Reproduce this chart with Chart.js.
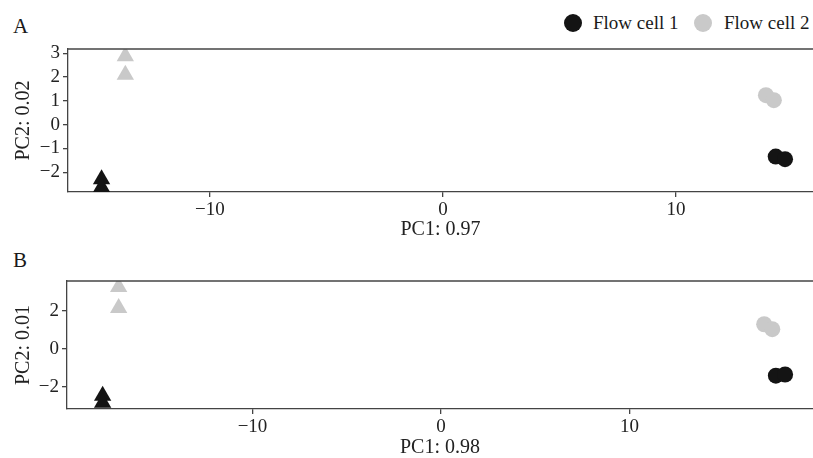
<!DOCTYPE html>
<html>
<head>
<meta charset="utf-8">
<script src="https://cdn.jsdelivr.net/npm/chart.js@4"></script>
<style>
  html, body { margin:0; padding:0; background:#fff; }
  body { width:813px; height:458px; position:relative; overflow:hidden; font-family:"Liberation Serif", serif; color:#1a1a1a; }
  .wrap { position:absolute; left:0; width:813px; }
  .panel-label { position:absolute; font-size:21px; line-height:1; }
  .legend { position:absolute; top:12px; left:0; width:813px; height:22px; font-size:19px; }
  .dot { position:absolute; width:18px; height:18px; border-radius:50%; top:2px; }
  .ltxt { position:absolute; top:0; line-height:22px; }
</style>
</head>
<body>
<div class="panel-label" style="left:13px;top:16px;">A</div>
<div class="panel-label" style="left:13px;top:250px;">B</div>
<div class="legend">
  <div class="dot" style="left:564px;background:#141414;"></div>
  <div class="ltxt" style="left:593px;">Flow cell 1</div>
  <div class="dot" style="left:694px;background:#c9c9c9;"></div>
  <div class="ltxt" style="left:724px;">Flow cell 2</div>
</div>
<div class="wrap" style="top:0;height:240px;"><canvas id="cA" width="813" height="240"></canvas></div>
<div class="wrap" style="top:240px;height:218px;"><canvas id="cB" width="813" height="218"></canvas></div>
<script>
// ---- Data ----
const seriesNames = ['Flow cell 1', 'Flow cell 2'];

// Panel A
const A_fc1_tri_x = [-14.65, -14.65];
const A_fc1_tri_y = [-2.29, -2.63];
const A_fc1_cir_x = [14.28, 14.68];
const A_fc1_cir_y = [-1.34, -1.45];
const A_fc2_tri_x = [-13.63, -13.63];
const A_fc2_tri_y = [2.88, 2.10];
const A_fc2_cir_x = [13.86, 14.20];
const A_fc2_cir_y = [1.24, 1.03];
const A_xTitle = 'PC1: 0.97';
const A_yTitle = 'PC2: 0.02';
const A_xRange = [-16.09, 15.88];
const A_yRange = [-2.83, 3.18];
const A_yStep = 1;

// Panel B
const B_fc1_tri_x = [-17.95, -17.95];
const B_fc1_tri_y = [-2.47, -2.84];
const B_fc1_cir_x = [17.76, 18.25];
const B_fc1_cir_y = [-1.41, -1.35];
const B_fc2_tri_x = [-17.10, -17.10];
const B_fc2_tri_y = [3.26, 2.16];
const B_fc2_cir_x = [17.14, 17.57];
const B_fc2_cir_y = [1.30, 1.04];
const B_xTitle = 'PC1: 0.98';
const B_yTitle = 'PC2: 0.01';
const B_xRange = [-19.84, 19.73];
const B_yRange = [-3.17, 3.58];
const B_yStep = 2;

const xStep = 10;

// ---- Styles ----
const BLACK = '#141414';
const GREY = '#c9c9c9';
const AXIS = '#444444';
const FONT = 'Liberation Serif';

function pts(xs, ys) { return xs.map((x, i) => ({x: x, y: ys[i]})); }
function fmt(v) { return String(v).replace('-', '\u2212'); }

const topBorder = {
  id: 'topBorder',
  afterDraw(chart) {
    const {ctx, chartArea} = chart;
    ctx.save();
    ctx.strokeStyle = AXIS;
    ctx.lineWidth = 1.3;
    ctx.beginPath();
    ctx.moveTo(chartArea.left, chartArea.top);
    ctx.lineTo(chartArea.right, chartArea.top);
    ctx.stroke();
    ctx.restore();
  }
};

function ds(label, data, color, shape, r) {
  return {
    label: label, data: data,
    pointStyle: shape, pointRadius: r, pointHoverRadius: r,
    backgroundColor: color, borderColor: color, borderWidth: 0,
    clip: 0
  };
}

function makeChart(id, d, opts) {
  return new Chart(document.getElementById(id), {
    type: 'scatter',
    data: { datasets: [
      ds(seriesNames[1], pts(d.fc2tx, d.fc2ty), GREY, 'triangle', 10),
      ds(seriesNames[1], pts(d.fc2cx, d.fc2cy), GREY, 'circle', 8),
      ds(seriesNames[0], pts(d.fc1tx, d.fc1ty), BLACK, 'triangle', 10),
      ds(seriesNames[0], pts(d.fc1cx, d.fc1cy), BLACK, 'circle', 8)
    ]},
    options: {
      responsive: false,
      animation: false,
      layout: { autoPadding: false, padding: { top: opts.top, left: 0, right: 0, bottom: 0 } },
      plugins: { legend: { display: false }, tooltip: { enabled: false } },
      scales: {
        x: {
          type: 'linear', min: opts.xRange[0], max: opts.xRange[1],
          border: { display: true, color: AXIS, width: 1.3 },
          grid: { display: true, drawOnChartArea: false, drawTicks: true, tickLength: 5, color: AXIS, lineWidth: 1.3 },
          ticks: { stepSize: xStep, includeBounds: false, autoSkip: false, maxRotation: 0, padding: 2,
                   color: '#222', font: { family: FONT, size: 19 }, callback: v => fmt(v) },
          title: { display: true, text: opts.xTitle, color: '#222', padding: 0,
                   font: { family: FONT, size: 20, lineHeight: 1 } },
          afterFit: s => { s.height = opts.xh; }
        },
        y: {
          type: 'linear', min: opts.yRange[0], max: opts.yRange[1],
          border: { display: true, color: AXIS, width: 1.3 },
          grid: { display: true, drawOnChartArea: false, drawTicks: true, tickLength: 5, color: AXIS, lineWidth: 1.3 },
          ticks: { stepSize: opts.yStep, includeBounds: false, autoSkip: false, padding: 3,
                   color: '#222', font: { family: FONT, size: 19 }, callback: v => fmt(v) },
          title: { display: true, text: opts.yTitle, color: '#222', padding: { top: 14, bottom: 0 },
                   font: { family: FONT, size: 20, lineHeight: 1 } },
          afterFit: s => { s.width = opts.yw; }
        }
      }
    },
    plugins: [topBorder]
  });
}

makeChart('cA', {
  fc1tx: A_fc1_tri_x, fc1ty: A_fc1_tri_y, fc1cx: A_fc1_cir_x, fc1cy: A_fc1_cir_y,
  fc2tx: A_fc2_tri_x, fc2ty: A_fc2_tri_y, fc2cx: A_fc2_cir_x, fc2cy: A_fc2_cir_y
}, { top: 49, xh: 48, yw: 68, xRange: A_xRange, yRange: A_yRange, yStep: A_yStep, xTitle: A_xTitle, yTitle: A_yTitle });

makeChart('cB', {
  fc1tx: B_fc1_tri_x, fc1ty: B_fc1_tri_y, fc1cx: B_fc1_cir_x, fc1cy: B_fc1_cir_y,
  fc2tx: B_fc2_tri_x, fc2ty: B_fc2_tri_y, fc2cx: B_fc2_cir_x, fc2cy: B_fc2_cir_y
}, { top: 41, xh: 49, yw: 67, xRange: B_xRange, yRange: B_yRange, yStep: B_yStep, xTitle: B_xTitle, yTitle: B_yTitle });
</script>
</body>
</html>
